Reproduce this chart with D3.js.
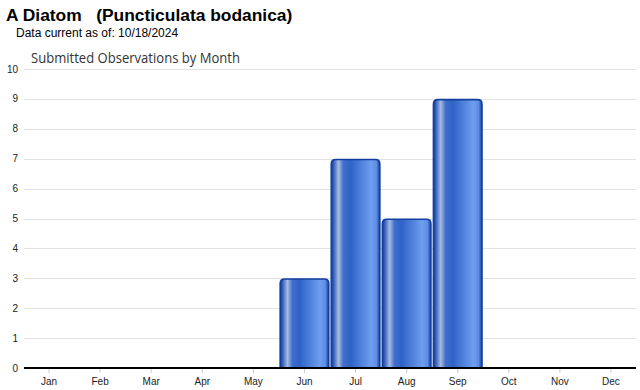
<!DOCTYPE html>
<html>
<head>
<meta charset="utf-8">
<script src="https://cdn.jsdelivr.net/npm/d3@7/dist/d3.min.js"></script>
<style>
  body { margin: 0; background: #fff; }
  svg { display: block; font-family: Arial, "Liberation Sans", sans-serif; }
</style>
</head>
<body>
<div id="chart"></div>
<script>
const months = ['Jan', 'Feb', 'Mar', 'Apr', 'May', 'Jun', 'Jul', 'Aug', 'Sep', 'Oct', 'Nov', 'Dec'];
const counts = [0, 0, 0, 0, 0, 3, 7, 5, 9, 0, 0, 0];
const yTicks = [0, 1, 2, 3, 4, 5, 6, 7, 8, 9, 10];

const width = 640, height = 390;
const margin = {left: 24, right: 4, top: 69, bottom: 22};

const svg = d3.select('#chart').append('svg')
    .attr('width', width)
    .attr('height', height);

const x = d3.scaleBand()
    .domain(months)
    .range([margin.left, width - margin.right])
    .paddingInner(0.02)
    .paddingOuter(0);

const y = d3.scaleLinear()
    .domain([0, 10])
    .range([height - margin.bottom, margin.top]);

// bar gradient
const defs = svg.append('defs');
const grad = defs.append('linearGradient')
    .attr('id', 'barGrad')
    .attr('x1', '0%').attr('x2', '100%')
    .attr('y1', '0%').attr('y2', '0%');
[
    [0, '#123f9e'],
    [0.05, '#3560bb'],
    [0.15, '#a9bbe0'],
    [0.25, '#3f6fcc'],
    [0.40, '#2f62c6'],
    [0.82, '#6e9ef0'],
    [0.93, '#5f8de4'],
    [1, '#123f9e'],
].forEach(([o, c]) => grad.append('stop').attr('offset', o).attr('stop-color', c));

// titles
svg.append('text')
    .attr('x', 6).attr('y', 21)
    .attr('font-size', 17.4).attr('font-weight', 'bold')
    .attr('fill', '#000')
    .attr('xml:space', 'preserve')
    .text('A Diatom   (Puncticulata bodanica)');

svg.append('text')
    .attr('x', 16).attr('y', 37)
    .attr('font-size', 12)
    .attr('fill', '#000')
    .text('Data current as of: 10/18/2024');

svg.append('text')
    .attr('x', 31).attr('y', 63)
    .attr('font-size', 14)
    .attr('font-family', '"Open Sans", sans-serif')
    .attr('textLength', 209)
    .attr('lengthAdjust', 'spacingAndGlyphs')
    .attr('fill', '#333')
    .text('Submitted Observations by Month');

// gridlines
svg.append('g')
    .selectAll('line')
    .data(yTicks.filter(d => d > 0))
    .enter()
    .append('line')
    .attr('x1', margin.left)
    .attr('x2', width - margin.right)
    .attr('y1', d => Math.round(y(d)) + 0.5)
    .attr('y2', d => Math.round(y(d)) + 0.5)
    .attr('stroke', '#e2e2e2');

// y labels
svg.append('g')
    .selectAll('text')
    .data(yTicks)
    .enter()
    .append('text')
    .attr('x', 18)
    .attr('y', d => y(d) + 3.5)
    .attr('text-anchor', 'end')
    .attr('font-size', 10)
    .attr('fill', '#222')
    .text(d => d);

// bars
const r = 4.5;
svg.append('g')
    .selectAll('path')
    .data(months.map((m, i) => ({month: m, value: counts[i]})).filter(d => d.value > 0))
    .enter()
    .append('path')
    .attr('d', d => {
        const x0 = x(d.month) + 0.75, x1 = x(d.month) + x.bandwidth() - 0.75;
        const t = y(d.value) + 0.75, b = y(0);
        return `M${x0},${b} V${t + r} Q${x0},${t} ${x0 + r},${t} H${x1 - r} Q${x1},${t} ${x1},${t + r} V${b} Z`;
    })
    .attr('fill', 'url(#barGrad)')
    .attr('stroke', '#123f9e')
    .attr('stroke-width', 1.6);

// x axis
const xAxis = d3.axisBottom(x).tickSize(5).tickPadding(5);
const gx = svg.append('g')
    .attr('transform', `translate(0,${y(0)})`)
    .call(xAxis);
gx.select('.domain').remove();
gx.selectAll('.tick line').attr('stroke', '#ccc').attr('y1', 1);
gx.selectAll('.tick text').attr('font-size', 10).attr('fill', '#222').attr('font-family', 'Arial, sans-serif');

svg.append('line')
    .attr('x1', margin.left)
    .attr('x2', width - margin.right)
    .attr('y1', y(0))
    .attr('y2', y(0))
    .attr('stroke', '#000')
    .attr('stroke-width', 2);
</script>
</body>
</html>
